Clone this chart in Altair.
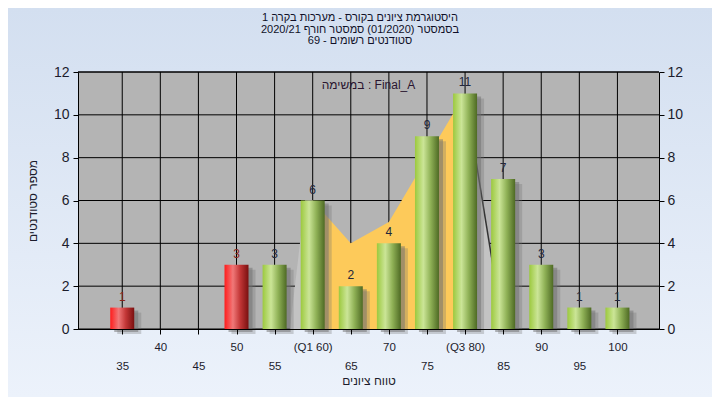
import altair as alt
import pandas as pd

# ---------------- data ----------------
grades = [35, 40, 45, 50, 55, 60, 65, 70, 75, 80, 85, 90, 95, 100]
counts = [1, 0, 0, 3, 3, 6, 2, 4, 9, 11, 7, 3, 1, 1]
pass_grade = 55
y_ticks = [0, 2, 4, 6, 8, 10, 12]

iqr_x = [60, 65, 70, 75, 80]
iqr_y = [6, 4, 5, 8, 11]
left_x = [57, 59, 60]
left_y = [0, 6, 6]
right_x = [80, 85]
right_y = [11, 0]

title_lines = [
    "היסטוגרמת ציונים בקורס - מערכות בקרה 1",
    "בסמסטר  (01/2020)  סמסטר חורף 2020/21",
    "סטודנטים רשומים - 69",
]
x_title = "טווח ציונים"
y_title = "מספר סטודנטים"
legend_text = "במשימה : Final_A"

# ---------------- layout ----------------
W, H = 581, 257
PAD = {"left": 70, "top": 64, "right": 53, "bottom": 68}
FONT = "Liberation Sans"
TXT = "#1c1c2c"

df = pd.DataFrame({"grade": grades, "count": counts})
df["fail"] = df["grade"] < pass_grade
bars_df = df[df["count"] > 0]

xs = alt.Scale(domain=[29.85, 104.8], nice=False, zero=False)
ys = alt.Scale(domain=[0, 12], nice=False, zero=True)

def X(field="x", axis=None):
    return alt.X(f"{field}:Q", scale=xs, axis=axis)

def Y(field="y", axis=None):
    return alt.Y(f"{field}:Q", scale=ys, axis=axis)

one = pd.DataFrame({"a": [0]})

bg = alt.Chart(one).mark_rect(
    fill={"gradient": "linear", "x1": 0, "x2": 0, "y1": 0, "y2": 1,
          "stops": [{"offset": 0, "color": "#d3dff0"}, {"offset": 1, "color": "#ecf2fb"}]}
).encode(x=alt.value(-PAD["left"]), x2=alt.value(W + PAD["right"]),
         y=alt.value(-PAD["top"]), y2=alt.value(H + PAD["bottom"]))

plot_bg = alt.Chart(one).mark_rect(fill="#b4b4b4").encode(
    x=alt.value(0), x2=alt.value(W), y=alt.value(0), y2=alt.value(H))

vgrid = alt.Chart(pd.DataFrame({"x": grades})).mark_rule(color="black", strokeWidth=1).encode(
    x=X(), y=alt.value(0), y2=alt.value(H))
hgrid = alt.Chart(pd.DataFrame({"y": y_ticks})).mark_rule(color="black", strokeWidth=1).encode(
    y=Y(), x=alt.value(0), x2=alt.value(W))

left_area = alt.Chart(pd.DataFrame({"x": left_x, "y": left_y})).mark_area(color="#c3c3c3").encode(x=X(), y=Y())
iqr_area = alt.Chart(pd.DataFrame({"x": iqr_x, "y": iqr_y})).mark_area(color="#fdca5a").encode(x=X(), y=Y())
right_area = alt.Chart(pd.DataFrame({"x": right_x, "y": right_y})).mark_area(color="#c3c3c3").encode(x=X(), y=Y())
right_edge = alt.Chart(pd.DataFrame({"x": right_x, "y": right_y})).mark_line(color="#333333", strokeWidth=1.5).encode(x=X(), y=Y())

shadow2 = alt.Chart(bars_df).mark_bar(size=24, color="#707070", opacity=0.3, xOffset=7, yOffset=5, y2Offset=5).encode(
    x=X("grade"), y=Y("count"))
shadow1 = alt.Chart(bars_df).mark_bar(size=24, color="#707070", opacity=0.5, xOffset=4, yOffset=3, y2Offset=3).encode(
    x=X("grade"), y=Y("count"))

green = {"gradient": "linear", "x1": 0, "x2": 1, "y1": 0, "y2": 0,
         "stops": [{"offset": 0, "color": "#9cc93e"}, {"offset": 0.35, "color": "#cbe597"},
                   {"offset": 0.65, "color": "#8fb156"}, {"offset": 1, "color": "#4e6a24"}]}
red = {"gradient": "linear", "x1": 0, "x2": 1, "y1": 0, "y2": 0,
       "stops": [{"offset": 0, "color": "#ff1c1c"}, {"offset": 0.35, "color": "#f07878"},
                 {"offset": 0.65, "color": "#c23636"}, {"offset": 1, "color": "#7a1010"}]}

x_axis = alt.Axis(
    values=grades,
    labelExpr="datum.value == 60 ? '(Q1 60)' : datum.value == 80 ? '(Q3 80)' : datum.label",
    title=x_title, grid=False, domainColor="black", domainWidth=1,
    tickColor="black", tickSize=5, tickWidth=1,
    labelPadding={"condition": {"test": "datum.value % 10 == 5", "value": 26}, "value": 7},
    labelFontSize=11.5, labelFont=FONT, labelColor=TXT, labelOverlap=False, labelFlush=False,
    titleFont=FONT, titleFontSize=12, titleFontWeight="normal", titleColor=TXT, titlePadding=4,
    zindex=1,
)
y_axis_left = alt.Axis(
    values=y_ticks, orient="left", title=y_title, grid=False,
    domainColor="black", tickColor="black", tickSize=5, labelPadding=4,
    labelFontSize=14, labelFont=FONT, labelColor=TXT,
    titleFont=FONT, titleFontSize=12, titleFontWeight="normal", titleColor=TXT, titlePadding=14,
    zindex=1,
)
y_axis_right = alt.Axis(
    values=y_ticks, orient="right", title=None, grid=False,
    domainColor="black", tickColor="black", tickSize=5, labelPadding=3,
    labelFontSize=14, labelFont=FONT, labelColor=TXT, zindex=1,
)

bars_red = alt.Chart(bars_df).transform_filter("datum.fail").mark_bar(size=24, color=red).encode(
    x=X("grade", x_axis), y=Y("count", y_axis_left))
bars_green = alt.Chart(bars_df).transform_filter("!datum.fail").mark_bar(size=24, color=green).encode(
    x=X("grade"), y=Y("count"))

labels = alt.Chart(bars_df).mark_text(dy=-7, baseline="alphabetic", fontSize=12, font=FONT).encode(
    x=X("grade"), y=Y("count", y_axis_right), text="count:Q",
    color=alt.condition("datum.fail", alt.value("#8a2418"), alt.value("#22263a")))

legend = alt.Chart(one).mark_text(text=legend_text, fontSize=12, font=FONT, color="#2a1530",
                                  baseline="middle", align="center").encode(
    x=alt.value(W / 2), y=alt.value(13))

title = alt.Chart(one).mark_text(text="\n".join(title_lines), lineBreak="\n", lineHeight=11.5,
                                 fontSize=11, font=FONT, color="#101028", dir="rtl",
                                 baseline="top", align="center").encode(
    x=alt.value(282), y=alt.value(-60))

top_border = alt.Chart(one).mark_rule(color="black", strokeWidth=1).encode(
    x=alt.value(0), x2=alt.value(W), y=alt.value(0))

chart = alt.layer(
    bg, plot_bg, vgrid, hgrid, left_area, iqr_area, right_area, right_edge,
    shadow2, shadow1, bars_red, bars_green, labels, legend, title, top_border
).resolve_axis(x="independent", y="independent").properties(
    width=W, height=H,
    autosize=alt.AutoSizeParams(type="none"),
    padding=PAD,
).configure(background="#dfe8f5").configure_view(stroke=None)

chart.save("out.html", embed_options={"renderer": "svg", "actions": False})
